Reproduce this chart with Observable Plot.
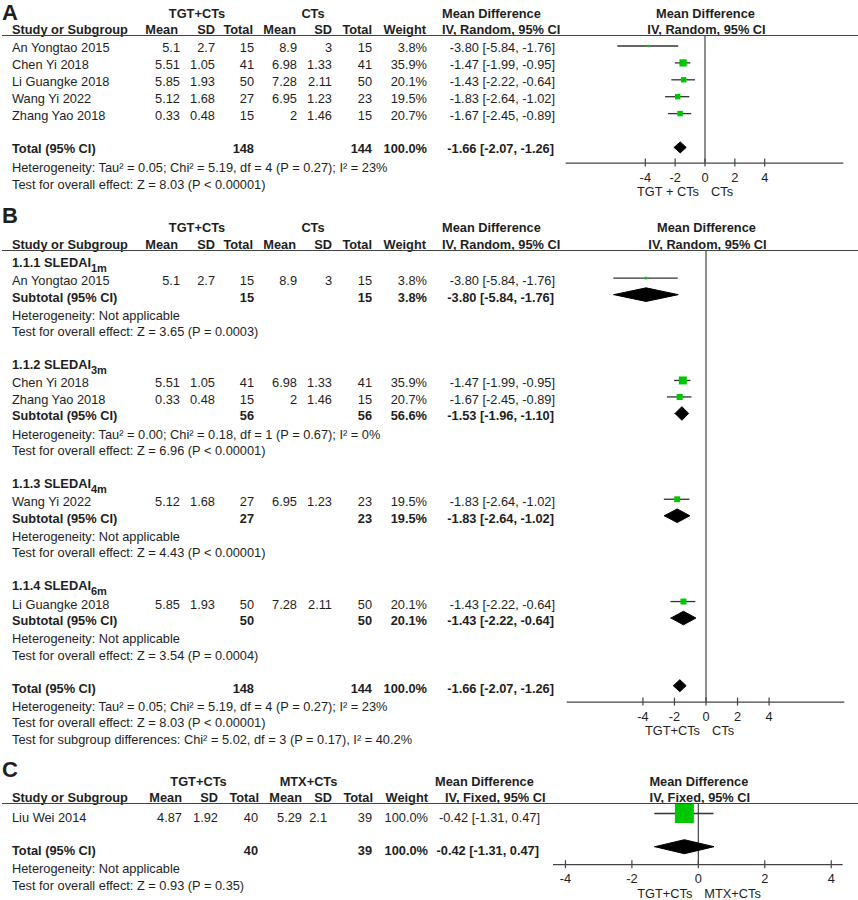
<!DOCTYPE html>
<html>
<head>
<meta charset="utf-8">
<script src="https://cdn.jsdelivr.net/npm/d3@7"></script>
<script src="https://cdn.jsdelivr.net/npm/@observablehq/plot@0.6"></script>
<style>
  body { margin: 0; background: #fff; }
  #root { position: relative; width: 858px; height: 900px; overflow: hidden;
          font-family: "Liberation Sans", Arial, Helvetica, sans-serif; font-size: 12.8px; color: #1e1e1e; background: #fff; }
  .panel { position: absolute; left: 0; width: 858px; overflow: hidden; }
  .t { position: absolute; white-space: nowrap; line-height: 16px; height: 16px; }
  .b { font-weight: bold; }
  .hl { position: absolute; left: 2px; width: 856px; height: 0; border-top: 1.3px solid #444; }
  .lab { position: absolute; left: 2px; font-weight: bold; font-size: 22px; line-height: 26px; }
  .sub { font-size: 11px; position: relative; top: 5px; }
</style>
</head>
<body>
<div id="root"></div>
<script>
// ================= DATA =================
// Panel A / B studies (TGT+CTs vs CTs)
const studiesA   = ["An Yongtao 2015", "Chen Yi 2018", "Li Guangke 2018", "Wang Yi 2022", "Zhang Yao 2018"];
const tgtMeanA   = [5.1, 5.51, 5.85, 5.12, 0.33];
const tgtSdA     = [2.7, 1.05, 1.93, 1.68, 0.48];
const tgtTotalA  = [15, 41, 50, 27, 15];
const ctMeanA    = [8.9, 6.98, 7.28, 6.95, 2];
const ctSdA      = [3, 1.33, 2.11, 1.23, 1.46];
const ctTotalA   = [15, 41, 50, 23, 15];
const weightA    = [3.8, 35.9, 20.1, 19.5, 20.7];
const mdA        = [-3.80, -1.47, -1.43, -1.83, -1.67];
const loA        = [-5.84, -1.99, -2.22, -2.64, -2.45];
const hiA        = [-1.76, -0.95, -0.64, -1.02, -0.89];
const totalNA    = [148, 144];
const totalWA    = 100.0;
const totalMdA   = [-1.66, -2.07, -1.26];
const hetA       = "Heterogeneity: Tau² = 0.05; Chi² = 5.19, df = 4 (P = 0.27); I² = 23%";
const testA      = "Test for overall effect: Z = 8.03 (P < 0.00001)";

// Panel B subgroups
const groupLabelB   = ["1.1.1 SLEDAI", "1.1.2 SLEDAI", "1.1.3 SLEDAI", "1.1.4 SLEDAI"];
const groupSubB     = ["1m", "3m", "4m", "6m"];
const groupStudiesB = [["An Yongtao 2015"], ["Chen Yi 2018", "Zhang Yao 2018"], ["Wang Yi 2022"], ["Li Guangke 2018"]];
const subN1B        = [15, 56, 27, 50];
const subN2B        = [15, 56, 23, 50];
const subWB         = [3.8, 56.6, 19.5, 20.1];
const subMdB        = [-3.80, -1.53, -1.83, -1.43];
const subLoB        = [-5.84, -1.96, -2.64, -2.22];
const subHiB        = [-1.76, -1.10, -1.02, -0.64];
const subHetB       = ["Heterogeneity: Not applicable",
                       "Heterogeneity: Tau² = 0.00; Chi² = 0.18, df = 1 (P = 0.67); I² = 0%",
                       "Heterogeneity: Not applicable",
                       "Heterogeneity: Not applicable"];
const subTestB      = ["Test for overall effect: Z = 3.65 (P = 0.0003)",
                       "Test for overall effect: Z = 6.96 (P < 0.00001)",
                       "Test for overall effect: Z = 4.43 (P < 0.00001)",
                       "Test for overall effect: Z = 3.54 (P = 0.0004)"];
const subgroupTestB = "Test for subgroup differences: Chi² = 5.02, df = 3 (P = 0.17), I² = 40.2%";

// Panel C (TGT+CTs vs MTX+CTs)
const studiesC  = ["Liu Wei 2014"];
const tgtMeanC  = [4.87];
const tgtSdC    = [1.92];
const tgtTotalC = [40];
const ctMeanC   = [5.29];
const ctSdC     = [2.1];
const ctTotalC  = [39];
const weightC   = [100.0];
const mdC       = [-0.42];
const loC       = [-1.31];
const hiC       = [0.47];
const totalNC   = [40, 39];
const totalWC   = 100.0;
const totalMdC  = [-0.42, -1.31, 0.47];
const hetC      = "Heterogeneity: Not applicable";
const testC     = "Test for overall effect: Z = 0.93 (P = 0.35)";

// Labels
const colHeaders   = ["Mean", "SD", "Total", "Mean", "SD", "Total", "Weight"];
const armsAB       = ["TGT+CTs", "CTs"];
const armsC        = ["TGT+CTs", "MTX+CTs"];
const axisLabelsA  = ["TGT + CTs", "CTs"];
const axisLabelsB  = ["TGT+CTs", "CTs"];
const axisLabelsC  = ["TGT+CTs", "MTX+CTs"];
const tickValues   = [-4, -2, 0, 2, 4];

// ================= HELPERS =================
const FONT = '"Liberation Sans", Arial, Helvetica, sans-serif';
const fmt = v => String(v);
const pct = w => w.toFixed(1) + "%";
const mdText = (e, l, h) => `${e.toFixed(2)} [${l.toFixed(2)}, ${h.toFixed(2)}]`;

function studyRow(name, i, src) {
  return { kind: "study", name,
    cells: [src.tm[i], src.ts[i], src.tn[i], src.cm[i], src.cs[i], src.cn[i]].map(fmt).concat([pct(src.w[i])]),
    est: src.md[i], lo: src.lo[i], hi: src.hi[i], w: src.w[i] };
}
const srcA = { tm: tgtMeanA, ts: tgtSdA, tn: tgtTotalA, cm: ctMeanA, cs: ctSdA, cn: ctTotalA, w: weightA, md: mdA, lo: loA, hi: hiA };
const srcC = { tm: tgtMeanC, ts: tgtSdC, tn: tgtTotalC, cm: ctMeanC, cs: ctSdC, cn: ctTotalC, w: weightC, md: mdC, lo: loC, hi: hiC };

function gap(prev, kind) {
  if (kind === "group" || kind === "total") return 2;
  if (prev === "group") return 1.1;
  if (kind === "het") return 1.1;
  return 1;
}

// rows for each panel
const rowsA = studiesA.map((s, i) => studyRow(s, i, srcA)).concat([
  { kind: "total", name: "Total (95% CI)", n1: totalNA[0], n2: totalNA[1], w: totalWA, est: totalMdA[0], lo: totalMdA[1], hi: totalMdA[2] },
  { kind: "het", name: hetA },
  { kind: "test", name: testA }
]);

const rowsB = [];
groupLabelB.forEach((g, k) => {
  rowsB.push({ kind: "group", name: g, sub: groupSubB[k] });
  groupStudiesB[k].forEach(s => rowsB.push(studyRow(s, studiesA.indexOf(s), srcA)));
  rowsB.push({ kind: "subtotal", name: "Subtotal (95% CI)", n1: subN1B[k], n2: subN2B[k], w: subWB[k], est: subMdB[k], lo: subLoB[k], hi: subHiB[k] });
  rowsB.push({ kind: "het", name: subHetB[k] });
  rowsB.push({ kind: "test", name: subTestB[k] });
});
rowsB.push({ kind: "total", name: "Total (95% CI)", n1: totalNA[0], n2: totalNA[1], w: totalWA, est: totalMdA[0], lo: totalMdA[1], hi: totalMdA[2] });
rowsB.push({ kind: "het", name: hetA });
rowsB.push({ kind: "test", name: testA });
rowsB.push({ kind: "subgroup", name: subgroupTestB });

const rowsC = studiesC.map((s, i) => studyRow(s, i, srcC)).concat([
  { kind: "total", name: "Total (95% CI)", n1: totalNC[0], n2: totalNC[1], w: totalWC, est: totalMdC[0], lo: totalMdC[1], hi: totalMdC[2] },
  { kind: "het", name: hetC },
  { kind: "test", name: testC }
]);

// ================= LAYOUT CONFIG =================
const cfgA = { label: "A", top: 0, height: 200, first: 48, pitch: 16.9, labelTop: 0,
  xDomain: [-9.3, 9.3], xRange: [565.7, 843.3], dy: -2.5, wMax: 35.9, rMax: 4.1, hTotal: 5.5, hSub: 6.8,
  tgtU: -2.01, hdrU: -1.07, lineU: -0.77,
  cols: [180, 215, 254, 297, 332, 372, 427], hdrCols: [178, 215, 253, 296, 332, 372, 426],
  arms: armsAB, armCenters: [197, 313], mdRight: 555, mdHdrLeft: [442, 442],
  method: "IV, Random, 95% CI", axisLabels: axisLabelsA };
const cfgB = { label: "B", top: 195, height: 555, first: 68, pitch: 16.5, labelTop: 8,
  xDomain: [-8.8, 8.8], xRange: [566.7, 844.3], dy: -3.5, wMax: 35.9, rMax: 4.5, hTotal: 6, hSub: 6.8,
  tgtU: -2.12, hdrU: -1.12, lineU: -0.76,
  cols: [180, 215, 254, 297, 332, 372, 427], hdrCols: [178, 215, 253, 296, 332, 372, 426],
  arms: armsAB, armCenters: [197, 313], mdRight: 555, mdHdrLeft: [442, 442],
  method: "IV, Random, 95% CI", axisLabels: axisLabelsB };
const cfgC = { label: "C", top: 750, height: 150, first: 68, pitch: 16.6, labelTop: 7,
  xDomain: [-4.36, 4.36], xRange: [553, 842.7], dy: -5, wMax: 100, rMax: 10.7, hTotal: 7, hSub: 7,
  tgtU: -2.17, hdrU: -1.2, lineU: -0.9,
  cols: [182, 218, 258, 302, 327, 372, 428], hdrCols: [182, 218, 259, 302, 332, 373, 428],
  arms: armsC, armCenters: [198.5, 308.5], mdRight: 540, mdHdrLeft: [435, 445],
  method: "IV, Fixed, 95% CI", axisLabels: axisLabelsC };

// ================= BUILD =================
function buildPanel(cfg, rows) {
  const root = document.getElementById("root");
  const panel = document.createElement("div");
  panel.className = "panel";
  panel.style.top = cfg.top + "px";
  panel.style.height = cfg.height + "px";
  root.appendChild(panel);

  let u = 0, prev = null;
  for (const r of rows) { if (prev) u += gap(prev.kind, r.kind); r.u = u; prev = r; }
  const totalRow = rows.find(r => r.kind === "total");
  const axisU = totalRow.u + 0.78;
  const studies = rows.filter(r => r.kind === "study");
  const pooled = rows.filter(r => r.kind === "subtotal" || r.kind === "total");
  const diamonds = pooled.flatMap((r, k) => {
    const h = (r.kind === "total" ? cfg.hTotal : cfg.hSub) / cfg.pitch;
    return [{ k, x: r.lo, y: r.u }, { k, x: r.est, y: r.u - h }, { k, x: r.hi, y: r.u }, { k, x: r.est, y: r.u + h }, { k, x: r.lo, y: r.u }];
  });
  const tick = 4 / cfg.pitch;

  const plot = Plot.plot({
    width: 858, height: cfg.height,
    x: { domain: cfg.xDomain, range: cfg.xRange, axis: null },
    y: { domain: [0, 1], range: [cfg.first, cfg.first + cfg.pitch], axis: null },
    r: { type: "sqrt", domain: [0, cfg.wMax], range: [0, cfg.rMax] },
    style: { fontFamily: FONT, fontSize: "12.8px", color: "#1e1e1e", background: "transparent", overflow: "visible" },
    marks: [
      Plot.ruleX([0], { y1: cfg.lineU, y2: axisU, stroke: "#444", strokeWidth: 1.2 }),
      Plot.ruleY([axisU], { y: d => d, x1: cfg.xDomain[0], x2: cfg.xDomain[1], stroke: "#444", strokeWidth: 1.2 }),
      Plot.ruleX(tickValues, { x: d => d, y1: axisU - tick, y2: axisU + tick, stroke: "#444", strokeWidth: 1.2 }),
      Plot.text(tickValues, { x: d => d, y: axisU, dy: 14.5, text: d => String(d), fill: "#1e1e1e" }),
      Plot.text([cfg.axisLabels[0]], { x: 0, y: axisU, dy: 29, dx: -6, textAnchor: "end", text: d => d, fill: "#1e1e1e" }),
      Plot.text([cfg.axisLabels[1]], { x: 0, y: axisU, dy: 29, dx: 6, textAnchor: "start", text: d => d, fill: "#1e1e1e" }),
      Plot.ruleY(studies, { y: "u", x1: "lo", x2: "hi", dy: cfg.dy, stroke: "#333", strokeWidth: 1.3 }),
      Plot.dot(studies, { x: "est", y: "u", r: "w", symbol: "square", fill: "#00c800", stroke: "none", dy: cfg.dy }),
      Plot.line(diamonds, { x: "x", y: "y", z: "k", fill: "#000", stroke: "#000", strokeWidth: 1, dy: cfg.dy })
    ]
  });
  plot.style.position = "absolute";
  plot.style.left = "0px";
  plot.style.top = "0px";
  panel.appendChild(plot);

  const ys = plot.scale("y"), xs = plot.scale("x");
  const Y = v => (ys && ys.apply) ? ys.apply(v) : cfg.first + v * cfg.pitch;
  const X = v => (xs && xs.apply) ? xs.apply(v) : cfg.xRange[0] + (v - cfg.xDomain[0]) / (cfg.xDomain[1] - cfg.xDomain[0]) * (cfg.xRange[1] - cfg.xRange[0]);
  const x0 = X(0);

  function put(text, x, y, align = "left", bold = false, html = false) {
    const d = document.createElement("div");
    d.className = "t" + (bold ? " b" : "");
    d.style.left = x + "px";
    d.style.top = (y - 8) + "px";
    if (align === "right") d.style.transform = "translateX(-100%)";
    if (align === "center") d.style.transform = "translateX(-50%)";
    if (html) d.innerHTML = text; else d.textContent = text;
    panel.appendChild(d);
  }

  // panel letter
  const lab = document.createElement("div");
  lab.className = "lab";
  lab.style.top = cfg.labelTop + "px";
  lab.textContent = cfg.label;
  panel.appendChild(lab);

  // header lines
  const yt = Y(cfg.tgtU), yh = Y(cfg.hdrU);
  put(cfg.arms[0], cfg.armCenters[0], yt, "center", true);
  put(cfg.arms[1], cfg.armCenters[1], yt, "center", true);
  put("Mean Difference", cfg.mdHdrLeft[0], yt, "left", true);
  put("Mean Difference", x0 + 1, yt, "center", true);
  put("Study or Subgroup", 12, yh, "left", true);
  colHeaders.forEach((h, i) => put(h, cfg.hdrCols[i], yh, "right", true));
  put(cfg.method, cfg.mdHdrLeft[1], yh, "left", true);
  put(cfg.method, x0 + 2, yh, "center", true);
  const hl = document.createElement("div");
  hl.className = "hl";
  hl.style.top = Y(cfg.lineU) + "px";
  panel.appendChild(hl);

  // body rows
  for (const r of rows) {
    const y = Y(r.u);
    if (r.kind === "study") {
      put(r.name, 12, y);
      r.cells.forEach((c, i) => put(c, cfg.cols[i], y, "right"));
      put(mdText(r.est, r.lo, r.hi), cfg.mdRight, y, "right");
    } else if (r.kind === "group") {
      put(`${r.name}<span class="sub">${r.sub}</span>`, 12, y, "left", true, true);
    } else if (r.kind === "subtotal" || r.kind === "total") {
      put(r.name, 12, y, "left", true);
      put(String(r.n1), cfg.cols[2], y, "right", true);
      put(String(r.n2), cfg.cols[5], y, "right", true);
      put(pct(r.w), cfg.cols[6], y, "right", true);
      put(mdText(r.est, r.lo, r.hi), cfg.mdRight - 1, y, "right", true);
    } else {
      put(r.name, 12, y);
    }
  }
}

buildPanel(cfgA, rowsA);
buildPanel(cfgB, rowsB);
buildPanel(cfgC, rowsC);
</script>
</body>
</html>
